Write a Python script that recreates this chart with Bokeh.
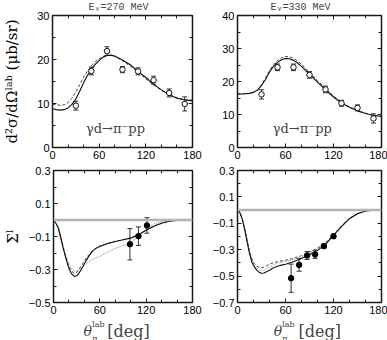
from bokeh.plotting import figure
from bokeh.models import (Range1d, FixedTicker, LinearAxis, Label, Whisker,
                          ColumnDataSource, Span, TeeHead)
from bokeh.layouts import column, row
from bokeh.embed import file_html
from bokeh.resources import INLINE

# ---------------- data ----------------
theta_top = [0, 5, 10, 15, 20, 25, 30, 35, 40, 45, 50, 55, 60, 65, 70, 75, 80,
             90, 100, 110, 120, 130, 140, 150, 160, 170, 180]
tl_solid = [8.8, 8.6, 8.5, 8.6, 9.0, 9.8, 11.0, 12.8, 14.7, 16.4, 17.7, 18.9, 19.8,
            20.5, 20.9, 21.0, 20.8, 19.9, 18.8, 17.3, 15.9, 14.4, 13.1, 12.0, 11.2, 10.8, 10.6]
tl_dash = [9.8, 9.7, 9.6, 9.7, 10.2, 11.2, 12.6, 14.3, 16.0, 17.4, 18.5, 19.5, 20.2,
           20.7, 20.9, 20.9, 20.7, 19.7, 18.5, 17.1, 15.6, 14.2, 13.0, 12.0, 11.3, 10.9, 10.8]
tr_solid = [16.2, 16.2, 16.3, 16.4, 16.7, 17.4, 18.8, 20.6, 22.9, 24.6, 25.8, 26.6, 27.0,
            26.9, 26.4, 25.6, 24.6, 22.2, 19.8, 17.5, 15.3, 13.5, 12.2, 11.1, 10.3, 9.7, 9.4]
tr_dash = [16.3, 16.3, 16.3, 16.4, 16.7, 17.5, 19.0, 21.0, 23.3, 25.1, 26.3, 27.2, 27.6,
           27.5, 27.0, 26.2, 25.2, 22.8, 20.3, 17.9, 15.6, 13.7, 12.3, 11.2, 10.4, 9.8, 9.5]

theta_bot = [0, 3, 6, 9, 12, 15, 18, 21, 24, 27, 30, 33, 36, 40, 45, 50, 55, 60,
             70, 80, 90, 100, 110, 120, 130, 140, 150, 160, 170, 180]
bl_solid = [0.0, -0.02, -0.045, -0.10, -0.16, -0.215, -0.265, -0.305, -0.330, -0.342,
            -0.338, -0.322, -0.300, -0.265, -0.225, -0.192, -0.172, -0.160, -0.143,
            -0.130, -0.120, -0.110, -0.090, -0.062, -0.038, -0.020, -0.008, -0.002, 0.0, 0.0]
bl_dash = [0.0, -0.02, -0.045, -0.10, -0.16, -0.21, -0.255, -0.29, -0.313, -0.323,
           -0.318, -0.300, -0.278, -0.248, -0.215, -0.188, -0.170, -0.158, -0.142,
           -0.130, -0.120, -0.108, -0.088, -0.060, -0.037, -0.020, -0.008, -0.002, 0.0, 0.0]
bl_dot = [0.0, -0.02, -0.04, -0.09, -0.145, -0.195, -0.24, -0.275, -0.297, -0.308,
          -0.310, -0.305, -0.293, -0.275, -0.255, -0.240, -0.230, -0.220, -0.195,
          -0.172, -0.155, -0.138, -0.100, -0.055, -0.025, -0.010, -0.004, -0.001, 0.0, 0.0]
br_solid = [0.0, -0.02, -0.07, -0.15, -0.24, -0.33, -0.395, -0.43, -0.455, -0.47,
            -0.478, -0.476, -0.468, -0.455, -0.437, -0.425, -0.417, -0.410, -0.392,
            -0.367, -0.338, -0.305, -0.260, -0.192, -0.125, -0.065, -0.027, -0.007, -0.001, 0.0]
br_dash = [0.0, -0.02, -0.065, -0.14, -0.225, -0.31, -0.37, -0.405, -0.425, -0.434,
           -0.436, -0.432, -0.423, -0.410, -0.398, -0.390, -0.385, -0.380, -0.365,
           -0.345, -0.318, -0.288, -0.248, -0.185, -0.120, -0.062, -0.026, -0.007, -0.001, 0.0]
br_dot = [0.0, -0.02, -0.065, -0.14, -0.225, -0.31, -0.375, -0.415, -0.44, -0.452,
          -0.456, -0.455, -0.447, -0.433, -0.415, -0.402, -0.395, -0.390, -0.375,
          -0.355, -0.328, -0.295, -0.253, -0.188, -0.122, -0.063, -0.026, -0.007, -0.001, 0.0]

top_x = [30, 50, 70, 90, 110, 130, 150, 170]
tl_y = [9.5, 17.4, 21.9, 17.7, 17.3, 15.3, 12.4, 9.9]
tl_err = [1.0, 0.9, 1.0, 0.7, 0.8, 0.9, 0.9, 1.6]
tr_y = [16.1, 24.3, 24.3, 22.0, 17.6, 13.4, 12.0, 8.8]
tr_err = [1.4, 1.0, 1.0, 1.0, 1.0, 0.9, 0.9, 1.4]
bl_x = [99, 110, 121]
bl_y = [-0.147, -0.098, -0.033]
bl_err = [0.095, 0.056, 0.047]
br_x = [67, 77, 87, 97, 108, 120]
br_y = [-0.516, -0.415, -0.344, -0.336, -0.273, -0.198]
br_err = [0.107, 0.048, 0.030, 0.030, 0.015, 0.015]

x_ticks = [0, 60, 120, 180]
x_minor = [20, 40, 80, 100, 140, 160]
x_tick_labels = ["0", "60", "120", "180"]
tl_yticks = [0, 10, 20, 30]
tl_yminor = [5, 15, 25]
tr_yticks = [0, 10, 20, 30, 40]
tr_yminor = [5, 15, 25, 35]
bl_yticks = [-0.5, -0.3, -0.1, 0.1, 0.3]
bl_yminor = [-0.4, -0.2, 0.0, 0.2]
bl_ylabels = ["\u22120.5", "\u22120.3", "\u22120.1", "0.1", "0.3"]
br_yticks = [-0.7, -0.5, -0.3, -0.1, 0.1, 0.3]
br_yminor = [-0.6, -0.4, -0.2, 0.0, 0.2]
br_ylabels = ["\u22120.7", "\u22120.5", "\u22120.3", "\u22120.1", "0.1", "0.3"]

energies = ["270", "330"]
reaction = "\u03b3d\u2192\u03c0\u207bpp"
ylab_top = "d\u00b2\u03c3/d\u03a9\u02e1\u1d43\u1d47 (\u03bcb/sr)"
ylab_bot = "\u03a3\u02e1"
xlab_theta = "\u03b8"
xlab_sup = "lab"
xlab_sub = "\u03c0"
xlab_unit = "[deg]"

FRAME = "#1a1a1a"
TICKF = "Liberation Sans"
SERIF = "DejaVu Serif"


def make_axis(ticks, minor, labels, show, title=None, standoff=0):
    ax = LinearAxis(ticker=FixedTicker(ticks=ticks, minor_ticks=minor))
    ax.axis_line_color = None
    ax.major_tick_in = 4
    ax.major_tick_out = 0
    ax.minor_tick_in = 3
    ax.minor_tick_out = 0
    ax.major_tick_line_color = FRAME
    ax.minor_tick_line_color = FRAME
    if show:
        ax.major_label_overrides = {t: l for t, l in zip(ticks, labels)}
        ax.major_label_text_font = TICKF
        ax.major_label_text_font_size = "11px"
        ax.major_label_text_color = "black"
        ax.major_label_standoff = 3
    else:
        ax.major_label_overrides = {t: "" for t in ticks}
        ax.major_label_text_font_size = "0px"
        ax.major_label_standoff = 0
    if title is not None:
        ax.axis_label = title
        ax.axis_label_text_font = SERIF
        ax.axis_label_text_font_size = "15px"
        ax.axis_label_text_font_style = "normal"
        ax.axis_label_text_color = "black"
        ax.axis_label_standoff = int(standoff)
    return ax


def make_panel(w, h, bl, br, bt, bb, ymin, ymax, yticks, yminor, ylabels,
               ytitle=None, ystand=0):
    p = figure(width=w, height=h, x_range=Range1d(0, 180), y_range=Range1d(ymin, ymax),
               output_backend="svg", toolbar_location=None, title=None,
               x_axis_location=None, y_axis_location=None,
               min_border_left=bl, min_border_right=br,
               min_border_top=bt, min_border_bottom=bb)
    p.grid.visible = False
    p.outline_line_color = FRAME
    p.outline_line_width = 1.5
    p.background_fill_color = "white"
    p.border_fill_color = "white"
    p.add_layout(make_axis(x_ticks, x_minor, x_tick_labels, True), "below")
    p.add_layout(make_axis(x_ticks, x_minor, x_tick_labels, False), "above")
    p.add_layout(make_axis(yticks, yminor, ylabels, True, ytitle, ystand), "left")
    p.add_layout(make_axis(yticks, yminor, ylabels, False), "right")
    return p


def make_strip(w, h):
    s = figure(width=w, height=h, x_range=Range1d(0, w), y_range=Range1d(0, h),
               output_backend="svg", toolbar_location=None, title=None,
               x_axis_location=None, y_axis_location=None,
               min_border_left=0, min_border_right=0, min_border_top=0, min_border_bottom=0)
    s.grid.visible = False
    s.outline_line_color = None
    s.background_fill_color = "white"
    s.border_fill_color = "white"
    return s


def add_points(p, xs, ys, errs, filled):
    src = ColumnDataSource(dict(x=xs, y=ys,
                                lo=[y - e for y, e in zip(ys, errs)],
                                hi=[y + e for y, e in zip(ys, errs)]))
    wc = "#333333"
    p.add_layout(Whisker(base="x", upper="hi", lower="lo", source=src,
                         line_color=wc, line_width=1,
                         upper_head=TeeHead(size=5, line_color=wc, line_width=1),
                         lower_head=TeeHead(size=5, line_color=wc, line_width=1)))
    if filled:
        p.scatter("x", "y", source=src, marker="circle", size=5.5,
                  fill_color="black", line_color="black")
    else:
        p.scatter("x", "y", source=src, marker="circle", size=5.5,
                  fill_color="white", line_color="#111111", line_width=1)


def add_curves(p, xs, solid, dash, dot=None):
    if dot is not None:
        p.line(xs, dot, line_color="#8c8c8c", line_width=1, line_dash="1 1")
    p.line(xs, dash, line_color="#444444", line_width=1, line_dash="3 2")
    p.line(xs, solid, line_color="#111111", line_width=1.1)


def lab(s, x, y, text, size, italic=False, font=SERIF, baseline="alphabetic"):
    s.add_layout(Label(x=x, y=y, text=text, text_font=font, text_font_size=size,
                       text_font_style="italic" if italic else "normal",
                       text_align="left", text_baseline=baseline))


# ---------------- layout: 387 x 340 (Bokeh's page template has no body margin) ----------
LW, RW = 202, 185
LB, LR, RB, RR = 48, 10, 35, 6
SH, TH, BH, XH = 11, 152, 155, 22

# title strip (text hung from the top edge of the strip)
ts = make_strip(LW + RW, SH)
lab(ts, 88, SH, "E\u1d67=" + energies[0] + " MeV", "10px", font="Liberation Mono",
    baseline="top")
lab(ts, 270, SH, "E\u1d67=" + energies[1] + " MeV", "10px", font="Liberation Mono",
    baseline="top")

p1 = make_panel(LW, TH, LB, LR, 4, 16, 0, 30, tl_yticks, tl_yminor,
                [str(t) for t in tl_yticks], ylab_top, 13)
add_curves(p1, theta_top, tl_solid, tl_dash)
add_points(p1, top_x, tl_y, tl_err, False)
p1.add_layout(Label(x=81, y=4.4, text=reaction, text_font=SERIF, text_font_size="13px",
                    text_align="center", text_baseline="middle"))

p2 = make_panel(RW, TH, RB, RR, 4, 16, 0, 40, tr_yticks, tr_yminor,
                [str(t) for t in tr_yticks])
add_curves(p2, theta_top, tr_solid, tr_dash)
add_points(p2, top_x, tr_y, tr_err, False)
p2.add_layout(Label(x=81, y=5.9, text=reaction, text_font=SERIF, text_font_size="13px",
                    text_align="center", text_baseline="middle"))

p3 = make_panel(LW, BH, LB, LR, 7, 16, -0.5, 0.3, bl_yticks, bl_yminor, bl_ylabels,
                ylab_bot, 4)
p3.add_layout(Span(location=0, dimension="width", line_color="#b4b4b4", line_width=2.5))
add_curves(p3, theta_bot, bl_solid, bl_dash, bl_dot)
add_points(p3, bl_x, bl_y, bl_err, True)

p4 = make_panel(RW, BH, RB, RR, 7, 16, -0.7, 0.3, br_yticks, br_yminor, br_ylabels)
p4.add_layout(Span(location=0, dimension="width", line_color="#b4b4b4", line_width=2.5))
add_curves(p4, theta_bot, br_solid, br_dash, br_dot)
add_points(p4, br_x, br_y, br_err, True)

# bottom text strip (x axis titles)
xs = make_strip(LW + RW, XH)
for tx, sx, ux in ((83, 91.7, 106.7), (273.3, 281.7, 298)):
    lab(xs, tx, 10, xlab_theta, "14px", italic=True)
    lab(xs, sx, 16.5, xlab_sup, "8px")
    lab(xs, sx, 2, xlab_sub, "8px")
    lab(xs, ux, 9.5, xlab_unit, "16px")

layout = column(ts, row(p1, p2), row(p3, p4), xs)
open("out.html", "w").write(file_html(layout, INLINE))
